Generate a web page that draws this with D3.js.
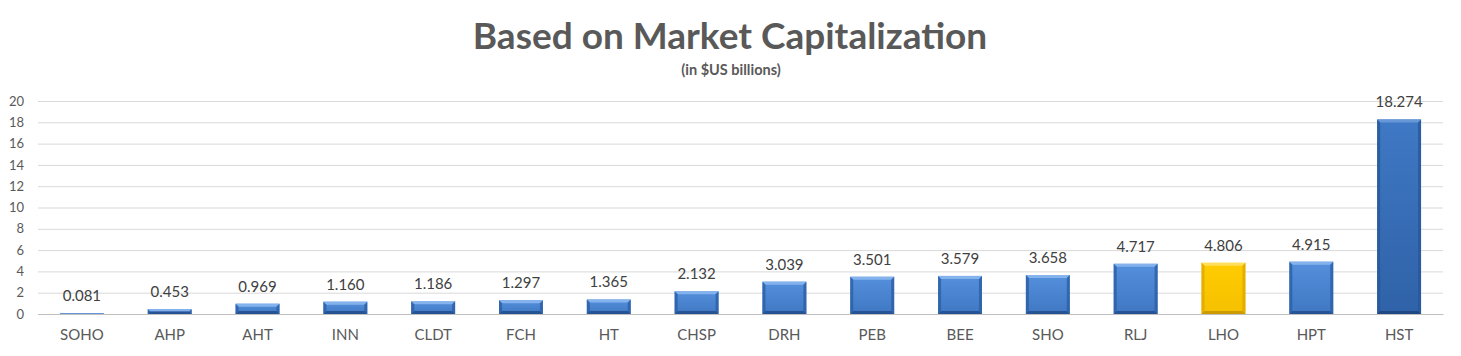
<!DOCTYPE html>
<html><head><meta charset="utf-8">
<script src="https://cdn.jsdelivr.net/npm/d3@7/dist/d3.min.js"></script>
<style>body{margin:0;background:#fff;}svg{display:block;}</style>
</head><body>
<svg id="chart" width="1461" height="356"></svg>
<script>
const categories = ["SOHO","AHP","AHT","INN","CLDT","FCH","HT","CHSP","DRH","PEB","BEE","SHO","RLJ","LHO","HPT","HST"];
const values = [0.081,0.453,0.969,1.160,1.186,1.297,1.365,2.132,3.039,3.501,3.579,3.658,4.717,4.806,4.915,18.274];
const valueLabels = ["0.081","0.453","0.969","1.160","1.186","1.297","1.365","2.132","3.039","3.501","3.579","3.658","4.717","4.806","4.915","18.274"];
const yTicks = [0,2,4,6,8,10,12,14,16,18,20];
const titleText = "Based on Market Capitalization";
const subtitleText = "(in $US billions)";
const highlight = "LHO";
const darker = "HST";

const svg = d3.select("#chart");
const margin = {left:38, right:18, top:101, bottom:42};
const W = 1461, H = 356;
const x = d3.scaleBand().domain(categories).range([margin.left, W-margin.right]).paddingInner(0.5).paddingOuter(0.25);
const y = d3.scaleLinear().domain([0,20]).range([H-margin.bottom, margin.top]);

const defs = svg.append("defs");
function grad(id, stops){
  const g = defs.append("linearGradient").attr("id",id).attr("x1",0).attr("y1",0).attr("x2",0).attr("y2",1);
  stops.forEach(s=>g.append("stop").attr("offset",s[0]).attr("stop-color",s[1]));
}
grad("gBlue",[[0,"#5590dc"],[1,"#3f77c2"]]);
grad("gDark",[[0,"#3f78c4"],[1,"#2f62a8"]]);
grad("gYel",[[0,"#ffcc00"],[1,"#f5c000"]]);

// title
svg.append("text").attr("x",730).attr("y",49).attr("text-anchor","middle")
  .style("font-family","Lato, 'Open Sans', sans-serif").style("font-weight","bold").style("font-size","37px")
  .attr("fill","#595959").text(titleText);
svg.append("text").attr("x",731).attr("y",75).attr("text-anchor","middle")
  .style("font-family","Lato, 'Open Sans', sans-serif").style("font-weight","bold").style("font-size","14.5px")
  .attr("fill","#595959").text(subtitleText);

// grid
const yAxis = d3.axisLeft(y).tickValues(yTicks).tickSize(-(W-margin.left-margin.right)).tickPadding(12);
const ga = svg.append("g").attr("transform",`translate(${margin.left},0)`).call(yAxis);
ga.select(".domain").remove();
ga.selectAll(".tick line").attr("stroke","#d9d9d9").attr("stroke-width",1);
ga.selectAll(".tick text").attr("fill","#595959").style("font-family","Lato, 'Open Sans', sans-serif").style("font-size","13px").attr("x",-14);
ga.selectAll(".tick").filter(d=>d===0).select("line").attr("stroke","#bfbfbf");

// x axis labels
const xAxis = d3.axisBottom(x).tickSize(0).tickPadding(15);
const gx = svg.append("g").attr("transform",`translate(0,${y(0)})`).call(xAxis);
gx.select(".domain").attr("stroke","#bfbfbf");
gx.selectAll(".tick text").attr("fill","#595959").style("font-family","Lato, 'Open Sans', sans-serif").style("font-size","15px");

// bars with bevel
const data = categories.map((c,i)=>({c, v:values[i], l:valueLabels[i]}));
const bars = svg.append("g").selectAll("g").data(data).join("g");
function fillFor(d){ return d.c===highlight ? "url(#gYel)" : d.c===darker ? "url(#gDark)" : "url(#gBlue)"; }
function edge(d){ return d.c===highlight ? ["#ffe066","#c79500","#e0a800"] : d.c===darker ? ["#6c9ad8","#1f4680","#28579a"] : ["#8ab6ee","#224f8e","#2c5fa6"]; }
bars.each(function(d){
  const g = d3.select(this);
  const x0 = x(d.c), x1 = x(d.c)+x.bandwidth(), y0 = y(d.v), y1 = y(0);
  const h = y1-y0;
  const b = Math.min(3, h/2);
  const e = edge(d);
  g.append("rect").attr("x",x0).attr("y",y0).attr("width",x1-x0).attr("height",h).attr("fill",fillFor(d));
  if(h>1){
    g.append("polygon").attr("points",`${x0},${y0} ${x1},${y0} ${x1-b},${y0+b} ${x0+b},${y0+b}`).attr("fill",e[0]).attr("opacity",0.9);
    g.append("polygon").attr("points",`${x0},${y1} ${x1},${y1} ${x1-b},${y1-b} ${x0+b},${y1-b}`).attr("fill",e[1]).attr("opacity",0.9);
    g.append("polygon").attr("points",`${x0},${y0} ${x0+b},${y0+b} ${x0+b},${y1-b} ${x0},${y1}`).attr("fill",e[2]).attr("opacity",0.8);
    g.append("polygon").attr("points",`${x1},${y0} ${x1-b},${y0+b} ${x1-b},${y1-b} ${x1},${y1}`).attr("fill",e[2]).attr("opacity",0.8);
  }
  g.append("text").attr("x",(x0+x1)/2).attr("y",y0-12).attr("text-anchor","middle")
    .style("font-family","Lato, 'Open Sans', sans-serif").style("font-size","15px").attr("fill","#404040").text(d.l);
});
</script>
</body></html>
